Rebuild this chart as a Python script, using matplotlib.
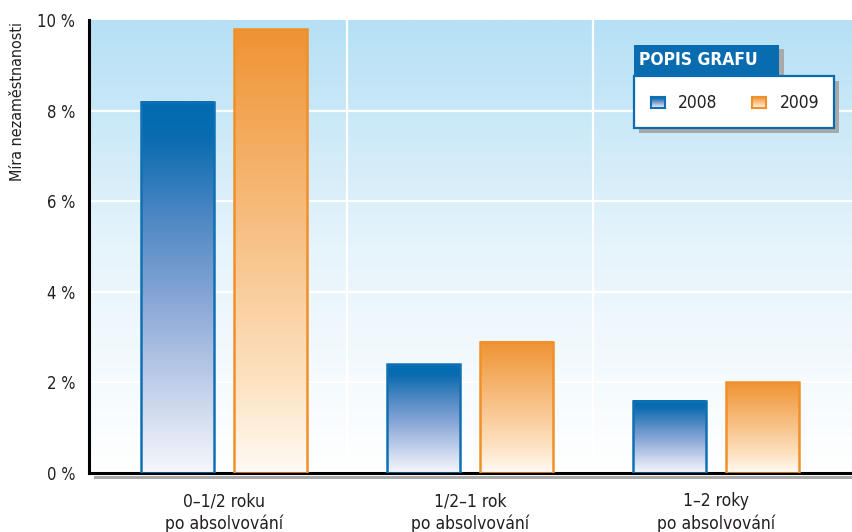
import numpy as np
import matplotlib
matplotlib.use("Agg")
import matplotlib.pyplot as plt
from matplotlib.colors import LinearSegmentedColormap
from matplotlib.patches import Rectangle

plt.rcParams['font.family'] = ['Liberation Sans Narrow', 'DejaVu Sans']
plt.rcParams['font.stretch'] = 'condensed'

categories = ["0–1/2 roku\npo absolvování", "1/2–1 rok\npo absolvování", "1–2 roky\npo absolvování"]
series_names = ["2008", "2009"]
values_2008 = [8.2, 2.4, 1.6]
values_2009 = [9.8, 2.9, 2.0]
yticks = [0, 2, 4, 6, 8, 10]
ytick_labels = ["0 %", "2 %", "4 %", "6 %", "8 %", "10 %"]
ylabel = "Míra nezaměstnanosti"
legend_title = "POPIS GRAFU"

TEXT = "#231f20"
blue_cmap = LinearSegmentedColormap.from_list(
    "b", [(0, "#f6f7fc"), (0.2, "#c9d5ec"), (0.45, "#8ca9d8"), (0.7, "#4a86c2"),
          (0.9, "#0a6cb0"), (1, "#006bb0")])
orange_cmap = LinearSegmentedColormap.from_list(
    "o", [(0, "#fffaf4"), (0.2, "#fde3c2"), (0.5, "#f8c48c"), (0.8, "#f3a756"), (1, "#ef9333")])
bg_cmap = LinearSegmentedColormap.from_list("bg", ["#ffffff", "#e6f4fb", "#b5e0f5"])

fig = plt.figure(figsize=(8.53, 5.32), dpi=100)
ax = fig.add_axes([0.1043, 0.1109, 0.8957, 0.8515])
XL = (-0.548, 2.555)

# background gradient
grad = np.linspace(0, 1, 256).reshape(-1, 1)
ax.imshow(grad, cmap=bg_cmap, origin="lower", aspect="auto",
          extent=[XL[0], XL[1], 0, 10], zorder=0)

# grid
for y in yticks[1:-1]:
    ax.axhline(y, color="white", lw=1.6, zorder=1)
for xv in [0.5, 1.5]:
    ax.axvline(xv, color="white", lw=1.6, zorder=1)

x = np.arange(len(categories))
w = 0.296
off = 0.189

def gradient_bar(xc, h, cmap, edge):
    x0, x1 = xc - w / 2, xc + w / 2
    ax.imshow(grad, cmap=cmap, origin="lower", aspect="auto",
              extent=[x0, x1, 0, h], zorder=2)
    ax.add_patch(Rectangle((x0, 0), w, h, facecolor="none", edgecolor=edge, lw=1.8, zorder=3))

for xi, v in zip(x, values_2008):
    gradient_bar(xi - off, v, blue_cmap, "#1170b4")
for xi, v in zip(x, values_2009):
    gradient_bar(xi + off, v, orange_cmap, "#f0902a")

ax.set_xlim(*XL)
ax.set_ylim(0, 10)

for s in ["top", "right"]:
    ax.spines[s].set_visible(False)
for s in ["left", "bottom"]:
    ax.spines[s].set_linewidth(2.2)
    ax.spines[s].set_color("black")

# shadow under the baseline
fig.add_artist(plt.Line2D([0.111, 1.0], [0.104, 0.104], color="#a8a8a8", lw=2.2,
                          transform=fig.transFigure))

ax.set_yticks(yticks)
ax.set_yticklabels(ytick_labels, fontsize=12, color=TEXT)
ax.set_xticks(x)
ax.set_xticklabels(categories, fontsize=12.5, color=TEXT, linespacing=1.3)
ax.tick_params(axis="both", length=0)
ax.tick_params(axis="y", pad=10)
ax.tick_params(axis="x", pad=14)
ax.set_ylabel(ylabel, fontsize=11.5, color=TEXT)
ax.yaxis.set_label_coords(-0.084, 0.82)

# legend box
def fx(px):
    return px / 853

def fy(py):
    return 1 - py / 532

fig.add_artist(Rectangle((fx(639), fy(133)), fx(834 - 634), fy(76) - fy(128),
                         transform=fig.transFigure, facecolor="#a9a9a9", edgecolor="none", zorder=5))
fig.add_artist(Rectangle((fx(639), fy(80)), fx(779 - 634), fy(45) - fy(76),
                         transform=fig.transFigure, facecolor="#a9a9a9", edgecolor="none", zorder=5))
fig.add_artist(Rectangle((fx(634), fy(76)), fx(779 - 634), fy(45) - fy(76),
                         transform=fig.transFigure, facecolor="#0a6cb0", edgecolor="none", zorder=6))
fig.add_artist(Rectangle((fx(634), fy(128)), fx(834 - 634), fy(76) - fy(128),
                         transform=fig.transFigure, facecolor="white", edgecolor="#0a6cb0",
                         lw=1.6, zorder=6))
fig.text(fx(639), fy(60), legend_title, color="white", fontsize=12.5, fontweight="bold",
         va="center", ha="left", zorder=7)

def legend_swatch(px, cmap, edge):
    lax = fig.add_axes([fx(px), fy(108), fx(14), fy(97) - fy(108)], zorder=8)
    lax.imshow(grad, cmap=cmap, origin="lower", aspect="auto", extent=[0, 1, 0, 1])
    lax.set_xticks([]); lax.set_yticks([])
    for s in lax.spines.values():
        s.set_color(edge); s.set_linewidth(1.5)

legend_swatch(651, blue_cmap, "#1170b4")
legend_swatch(752, orange_cmap, "#f0902a")
fig.text(fx(678), fy(103), series_names[0], fontsize=12.5, color=TEXT, va="center", zorder=9)
fig.text(fx(780), fy(103), series_names[1], fontsize=12.5, color=TEXT, va="center", zorder=9)

fig.savefig("out.png", dpi=100)
